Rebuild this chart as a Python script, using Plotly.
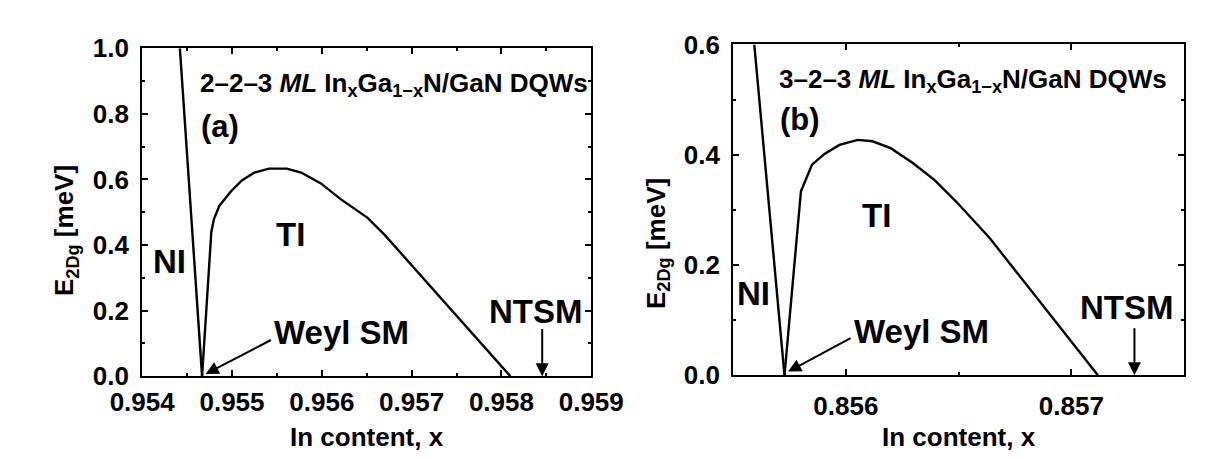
import plotly.graph_objects as go

# ---------------- data ----------------
# panel (a): 2-2-3 ML
xa_ni = [0.95442, 0.954667]
ya_ni = [1.0, 0.0]
xa_ti = [0.954667, 0.95477, 0.95480, 0.95486, 0.95499, 0.95511, 0.95525, 0.95541,
         0.95561, 0.95577, 0.95599, 0.95621, 0.95651, 0.95670, 0.95810]
ya_ti = [0.0, 0.44, 0.48, 0.52, 0.564, 0.597, 0.621, 0.633,
         0.633, 0.621, 0.588, 0.540, 0.483, 0.431, 0.0]

# panel (b): 3-2-3 ML
xb_ni = [0.855594, 0.855728]
yb_ni = [0.6, 0.0]
xb_ti = [0.855728, 0.855801, 0.855850, 0.855907, 0.855972, 0.856053, 0.856118,
         0.856199, 0.856297, 0.856394, 0.856492, 0.856573, 0.856638, 0.857118]
yb_ti = [0.0, 0.334, 0.382, 0.402, 0.418, 0.427, 0.4245,
         0.412, 0.385, 0.354, 0.314, 0.277, 0.249, 0.0]

xa_ticks = [0.954, 0.955, 0.956, 0.957, 0.958, 0.959]
xb_ticks = [0.856, 0.857]

FONT = "Liberation Sans"
BLACK = "#000000"

fig = go.Figure()
line = dict(color=BLACK, width=2.4)
fig.add_trace(go.Scatter(x=xa_ni, y=ya_ni, mode="lines", line=line, xaxis="x", yaxis="y", showlegend=False))
fig.add_trace(go.Scatter(x=xa_ti, y=ya_ti, mode="lines", line=line, xaxis="x", yaxis="y", showlegend=False))
fig.add_trace(go.Scatter(x=xb_ni, y=yb_ni, mode="lines", line=line, xaxis="x2", yaxis="y2", showlegend=False))
fig.add_trace(go.Scatter(x=xb_ti, y=yb_ti, mode="lines", line=line, xaxis="x2", yaxis="y2", showlegend=False))

W, H = 1210, 459
# plot-area pixel boxes
ax_a = dict(l=107, r=582, t=27, b=378)
ax_b = dict(l=732, r=1209, t=23, b=377)


def dom_x(b):
    return [b["l"] / W, b["r"] / W]


def dom_y(b):
    return [1 - b["b"] / H, 1 - b["t"] / H]


tickfont = dict(family=FONT, size=26, color=BLACK, weight="bold")
common = dict(showline=True, linecolor=BLACK, linewidth=2, mirror="allticks",
              ticks="inside", ticklen=6, tickwidth=1.5, tickcolor=BLACK,
              showgrid=False, zeroline=False, tickfont=tickfont)
minor_x = dict(ticks="inside", ticklen=3, tickwidth=1.5, tickcolor=BLACK, dtick=0.0005)
minor_y = dict(ticks="inside", ticklen=3, tickwidth=1.5, tickcolor=BLACK, dtick=0.1)

fig.update_layout(
    width=W, height=H,
    margin=dict(l=0, r=0, t=0, b=0),
    paper_bgcolor="white", plot_bgcolor="white",
    xaxis=dict(domain=dom_x(ax_a), range=[0.954, 0.959], anchor="y",
               tickvals=xa_ticks, tickformat=".3f", ticklabelstandoff=2,
               minor=dict(minor_x, tick0=0.954), **common),
    yaxis=dict(domain=dom_y(ax_a), range=[0, 1.0], anchor="x",
               dtick=0.2, tick0=0, tickformat=".1f", ticklabelstandoff=6,
               minor=minor_y, **common),
    xaxis2=dict(domain=dom_x(ax_b), range=[0.8555, 0.8575], anchor="y2",
                tickvals=xb_ticks, tickformat=".3f", ticklabelstandoff=6,
                minor=dict(minor_x, tick0=0.8555), **common),
    yaxis2=dict(domain=dom_y(ax_b), range=[0, 0.6], anchor="x2",
                dtick=0.2, tick0=0, tickformat=".1f", ticklabelstandoff=6,
                minor=minor_y, **common),
)


def txt(x, y, s, size, xr, yr, xanchor="center", **kw):
    fig.add_annotation(x=x, y=y, xref=xr, yref=yr, text=s, showarrow=False,
                       xanchor=xanchor, yanchor="middle",
                       font=dict(family=FONT, size=size, color=BLACK, weight="bold"), **kw)


def arrow(x, y, ax, ay, xr, yr):
    fig.add_annotation(x=x, y=y, ax=ax, ay=ay, xref=xr, yref=yr, axref=xr, ayref=yr,
                       text="", showarrow=True, arrowhead=2, arrowsize=1.3, arrowwidth=2,
                       arrowcolor=BLACK, standoff=0)


title_a = "2–2–3 <i>ML</i> In<sub>x</sub>Ga<sub>1−x</sub>N/GaN DQWs"
title_b = "3–2–3 <i>ML</i> In<sub>x</sub>Ga<sub>1−x</sub>N/GaN DQWs"

LBL = 33
# panel (a) labels
txt(0.95899, 0.89, title_a, 26, "x", "y", xanchor="right")
txt(0.954867, 0.761, "(a)", 31, "x", "y")
txt(0.954305, 0.349, "NI", LBL, "x", "y")
txt(0.95565, 0.431, "TI", LBL, "x", "y")
txt(0.95545, 0.132, "Weyl SM", LBL, "x", "y", xanchor="left")
txt(0.95838, 0.199, "NTSM", LBL, "x", "y")
arrow(0.954707, 0.007, 0.95545, 0.113, "x", "y")
arrow(0.958454, 0.0, 0.958454, 0.149, "x", "y")

# panel (b) labels
txt(0.857435, 0.535, title_b, 26, "x2", "y2", xanchor="right")
txt(0.855796, 0.464, "(b)", 31, "x2", "y2")
txt(0.855589, 0.148, "NI", LBL, "x2", "y2")
txt(0.856134, 0.290, "TI", LBL, "x2", "y2")
txt(0.856028, 0.0792, "Weyl SM", LBL, "x2", "y2", xanchor="left")
txt(0.857248, 0.1234, "NTSM", LBL, "x2", "y2")
arrow(0.855744, 0.0068, 0.856028, 0.069, "x2", "y2")
arrow(0.85728, 0.0, 0.85728, 0.088, "x2", "y2")

# axis titles
ytitle = "E<sub>2Dg</sub> [meV]"
for cx in (345, 971):
    txt(cx / W, 1 - 443 / H, "In content, x", 26, "paper", "paper")
for px, py in ((26, 222), (652, 236)):
    txt(px / W, 1 - py / H, ytitle, 26, "paper", "paper", textangle=-90)

fig.write_html("out.html")
